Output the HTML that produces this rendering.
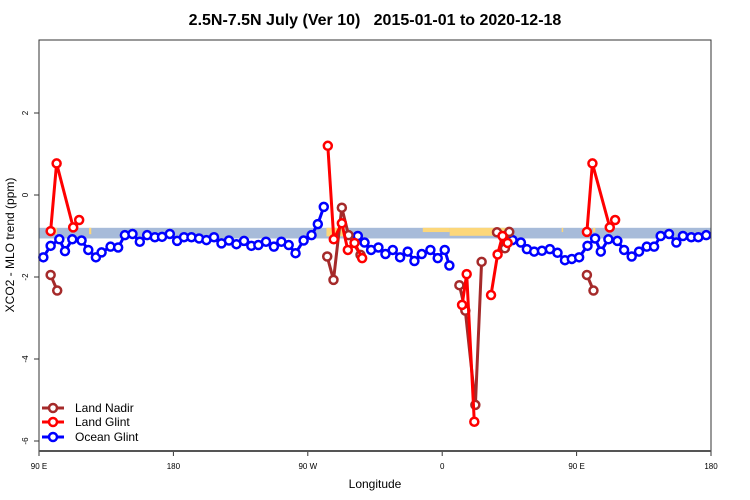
<!DOCTYPE html>
<html><head><meta charset="utf-8"><style>
body{margin:0;background:#fff;}
svg{display:block;font-family:"Liberation Sans",sans-serif;}
</style></head><body>
<svg id="chart" width="750" height="500">
<text x="375" y="25" text-anchor="middle" font-size="16" font-weight="bold">2.5N-7.5N July (Ver 10)&#160;&#160;&#160;2015-01-01 to 2020-12-18</text>
<text transform="translate(14,245) rotate(-90)" text-anchor="middle" font-size="12">XCO2 - MLO trend (ppm)</text>
<text x="375" y="488" text-anchor="middle" font-size="12">Longitude</text>
<g id="band"></g>
<g id="axes"></g>
<g id="series"></g>
<rect x="39" y="40" width="672" height="411" fill="none" stroke="#333" stroke-width="1"/>
<line x1="39" y1="451" x2="711" y2="451" stroke="#555" stroke-width="2"/>
<g id="legend"></g>
</svg>
<script>
const xTicks=[90,180,270,360,450,540];
const xTickLabels=["90 E","180","90 W","0","90 E","180"];
const yTicks=[-6,-4,-2,0,2];
const yTickLabels=["-6","-4","-2","0","2"];
const bandRange=[-1.06,-0.8];
const yellowLons=[[98.7,102],[123.5,125],[282.5,295],[347,365],[365,405],[440,441],[461,462.5]];
const yellowFrac=[0.6,0.6,0.8,0.4,0.75,0.4,0.4];
const oceanLon=[92.9,97.8,103.6,107.4,112.3,118.5,123,128.1,131.9,137.9,143,147.5,152.6,157.5,162.4,167.6,172.4,177.6,182.5,187.1,192.1,197.2,202.1,207.2,212.2,217.2,222.2,227.3,232.2,236.9,242,247.3,252.3,257.2,261.8,267.2,272.5,276.7,280.7,null,
303.5,308,312.4,317.3,322,326.9,331.8,336.9,341.4,346.3,352.1,357,361.7,364.8,null,
407.1,412.7,416.7,421.6,426.8,432.1,437.2,442.2,446.8,451.7,457.3,462.4,466.2,471.3,477.3,481.8,486.9,491.8,497,501.9,506.3,511.9,516.8,521.2,526.8,531.5,536.8];
const oceanVal=[-1.52,-1.24,-1.08,-1.37,-1.08,-1.11,-1.34,-1.52,-1.40,-1.26,-1.28,-0.98,-0.95,-1.14,-0.98,-1.03,-1.02,-0.95,-1.12,-1.03,-1.03,-1.06,-1.10,-1.03,-1.18,-1.11,-1.20,-1.12,-1.24,-1.22,-1.14,-1.26,-1.14,-1.22,-1.42,-1.11,-0.98,-0.71,-0.29,null,
-1.00,-1.16,-1.34,-1.28,-1.44,-1.34,-1.52,-1.38,-1.61,-1.44,-1.34,-1.54,-1.34,-1.72,null,
-1.10,-1.16,-1.32,-1.38,-1.36,-1.32,-1.41,-1.59,-1.56,-1.52,-1.24,-1.06,-1.38,-1.08,-1.12,-1.34,-1.50,-1.38,-1.26,-1.26,-1.00,-0.95,-1.16,-1.00,-1.03,-1.03,-0.98];
const nadirLon=[97.8,102.2,null,283.0,287.2,292.8,297.3,305.3,null,371.5,375.5,382.2,386.4,null,396.7,402,404.9,null,456.9,461.3];
const nadirVal=[-1.95,-2.33,null,-1.50,-2.07,-0.31,-0.98,-1.46,null,-2.20,-2.82,-5.12,-1.63,null,-0.91,-1.30,-0.90,null,-1.95,-2.33];
const glintLon=[97.8,101.8,112.9,116.9,null,283.4,287.4,292.8,296.8,301.3,306.4,null,373.3,376.4,381.5,null,392.7,397.1,400.4,403.8,null,456.9,460.6,472.2,475.8];
const glintVal=[-0.88,0.77,-0.79,-0.61,null,1.20,-1.08,-0.69,-1.34,-1.17,-1.54,null,-2.68,-1.93,-5.53,null,-2.44,-1.45,-1.00,-1.17,null,-0.90,0.77,-0.79,-0.61];

const NS="http://www.w3.org/2000/svg";
const X0=39,X1=711,Y0=451,Y1=40;
const xs=v=>X0+(v-90)/(540-90)*(X1-X0);
const ys=v=>195-v*41;
function mk(tag,attrs,parent){const e=document.createElementNS(NS,tag);for(const k in attrs)e.setAttribute(k,attrs[k]);parent.appendChild(e);return e;}
const band=document.getElementById('band');
let r=mk('rect',{x:X0,y:ys(bandRange[1]),width:X1-X0,height:ys(bandRange[0])-ys(bandRange[1]),fill:'#a7bbd9'},band);


yellowLons.forEach((p,i)=>{
  const e=mk('rect',{x:xs(p[0]),y:ys(bandRange[1]),width:xs(p[1])-xs(p[0]),height:(ys(bandRange[0])-ys(bandRange[1]))*yellowFrac[i],fill:'#fcd77a'},band);
  
  
});
const axes=document.getElementById('axes');
xTicks.forEach((t,i)=>{
  const l=mk('line',{x1:xs(t),x2:xs(t),y1:Y0,y2:Y0+5,stroke:'#333'},axes);
  
  
  const tx=mk('text',{x:xs(t),y:Y0+18,'font-size':8,'text-anchor':'middle'},axes);
  tx.textContent=xTickLabels[i];
  
  
});
yTicks.forEach((t,i)=>{
  const l=mk('line',{x1:X0-5,x2:X0,y1:ys(t),y2:ys(t),stroke:'#333'},axes);
  
  
  const tx=mk('text',{transform:`translate(28,${ys(t)}) rotate(-90)`,'font-size':8,'text-anchor':'middle'},axes);
  tx.textContent=yTickLabels[i];
  
  
});
const series=document.getElementById('series');
function draw(lon,val,color,name){
  const g=mk('g',{},series);
  
  
  let d='',pen=false;
  lon.forEach((x,i)=>{if(x===null||val[i]===null){pen=false;return;}d+=(pen?'L':'M')+xs(x).toFixed(1)+' '+ys(val[i]).toFixed(1);pen=true;});
  const p=mk('path',{d:d,fill:'none',stroke:color,'stroke-width':3,'stroke-linejoin':'round'},g);
  
  
  lon.forEach((x,i)=>{if(x===null||val[i]===null)return;
    const c=mk('circle',{cx:xs(x),cy:ys(val[i]),r:4,fill:'#fff',stroke:color,'stroke-width':2.5},g);
    
    
  });
}
draw(oceanLon,oceanVal,'#0000ff','ocean-glint');
draw(nadirLon,nadirVal,'#a52a2a','land-nadir');
draw(glintLon,glintVal,'#ff0000','land-glint');
const leg=document.getElementById('legend');
[['Land Nadir','#a52a2a',408],['Land Glint','#ff0000',422],['Ocean Glint','#0000ff',437]].forEach(e=>{
  const g=mk('g',{},leg);
  
  
  mk('line',{x1:42,x2:64,y1:e[2],y2:e[2],stroke:e[1],'stroke-width':3},g);
  mk('circle',{cx:53,cy:e[2],r:4,fill:'#fff',stroke:e[1],'stroke-width':2.5},g);
  const t=mk('text',{x:75,y:e[2]+4,'font-size':12},g);
  t.textContent=e[0];
});
</script>
</body></html>
